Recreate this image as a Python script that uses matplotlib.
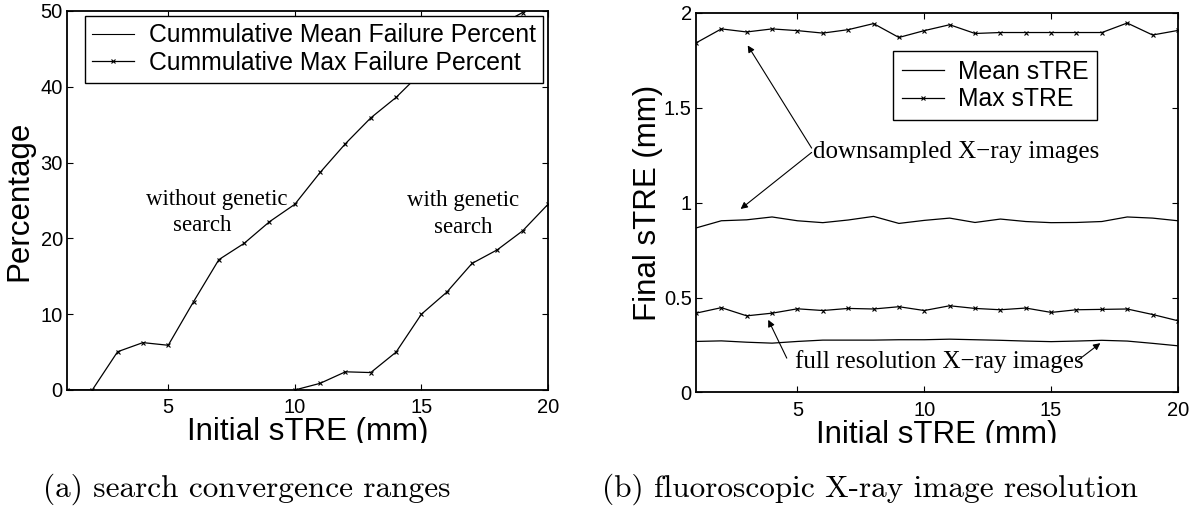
import numpy as np
import matplotlib.pyplot as plt
from matplotlib.lines import Line2D
from matplotlib.transforms import Bbox, TransformedBbox

# (a) cumulative max failure percent
init_stre = np.arange(1, 21)
fail_without = [0, 0, 5.05, 6.25, 5.9, 11.65, 17.2, 19.35, 22.2, 24.5,
                28.7, 32.5, 35.9, 38.6, 41.9, 44.2, 46.3, 48.0, 49.8, 52.5]
init_genetic = np.arange(10, 21)
fail_with = [0, 0.88, 2.4, 2.3, 5.0, 10.0, 12.9, 16.7, 18.5, 21.0, 24.5]

# (b) final sTRE, downsampled and full resolution images
mean_down = [0.867, 0.905, 0.910, 0.925, 0.905, 0.895, 0.909, 0.928, 0.891, 0.907,
             0.919, 0.896, 0.914, 0.901, 0.895, 0.896, 0.901, 0.925, 0.919, 0.905]
max_down = [1.842, 1.916, 1.900, 1.916, 1.907, 1.894, 1.912, 1.944, 1.871, 1.907,
            1.938, 1.892, 1.897, 1.897, 1.897, 1.897, 1.897, 1.947, 1.884, 1.908]
mean_full = [0.269, 0.272, 0.265, 0.260, 0.269, 0.276, 0.276, 0.276, 0.278, 0.278,
             0.281, 0.278, 0.275, 0.271, 0.268, 0.271, 0.275, 0.271, 0.259, 0.246]
max_full = [0.418, 0.447, 0.404, 0.418, 0.441, 0.432, 0.443, 0.440, 0.452, 0.432,
            0.457, 0.443, 0.436, 0.445, 0.422, 0.436, 0.438, 0.440, 0.411, 0.378]

xticks = [5, 10, 15, 20]
yticks_a = [0, 10, 20, 30, 40, 50]
yticks_b = [0, 0.5, 1, 1.5, 2]
yticklabels_b = ['0', '0.5', '1', '1.5', '2']

plt.rcParams['font.family'] = ['Liberation Sans', 'DejaVu Sans']
serif = ['Liberation Serif', 'DejaVu Serif']

fig = plt.figure(figsize=(12.02, 5.09), dpi=100)
ax1 = fig.add_axes([0.0557, 0.2338, 0.4002, 0.7446])
ax2 = fig.add_axes([0.5790, 0.2289, 0.4010, 0.7456])

# clip the x labels like the cropped original
clipbox = TransformedBbox(Bbox([[0, 66 / 509], [1, 1]]), fig.transFigure)

for ax in (ax1, ax2):
    ax.tick_params(direction='in', top=True, right=True, length=4, width=0.8,
                   labelsize=14.5)
    ax.tick_params(axis='x', pad=6)
    ax.tick_params(axis='y', pad=3)
    for s in ax.spines.values():
        s.set_linewidth(1.3)
    ax.set_xlim(1, 20)
    ax.set_xticks(xticks)
    ax.set_xlabel('Initial sTRE (mm)', fontsize=22.5)
    ax.xaxis.label.set_clip_box(clipbox)
    ax.xaxis.label.set_clip_on(True)

# ---- (a)
ln_max, = ax1.plot(init_stre, fail_without, color='k', lw=0.9, marker='x', ms=3.5, mew=0.8, zorder=3)
ax1.plot(init_genetic, fail_with, color='k', lw=0.9, marker='x', ms=3.5, mew=0.8, zorder=3)
ax1.set_ylim(0, 50)
ax1.set_yticks(yticks_a)
ax1.set_ylabel('Percentage', fontsize=22.5)
ax1.yaxis.set_label_coords(-0.067, 0.5)
ax1.xaxis.set_label_coords(0.5, -0.072)
ax1.text(6.90, 24.4, 'without genetic', family=serif, fontsize=16.5, ha='center', va='baseline')
ax1.text(6.33, 20.98, 'search', family=serif, fontsize=16.5, ha='center', va='baseline')
ax1.text(16.65, 24.3, 'with genetic', family=serif, fontsize=16.5, ha='center', va='baseline')
ax1.text(16.65, 20.7, 'search', family=serif, fontsize=16.5, ha='center', va='baseline')

mean_proxy = Line2D([], [], color='k', lw=0.8)
leg1 = ax1.legend([mean_proxy, ln_max],
                  ['Cummulative Mean Failure Percent', 'Cummulative Max Failure Percent'],
                  loc='upper right', bbox_to_anchor=(1 - 5 / 481, 1 - 5 / 379),
                  borderaxespad=0, fancybox=False, edgecolor='k', framealpha=1,
                  fontsize=17.8, handlelength=1.7, handletextpad=0.57,
                  labelspacing=0.15, borderpad=0.3, numpoints=1)
leg1.get_frame().set_linewidth(1.0)

# ---- (b)
l_mean, = ax2.plot(init_stre, mean_down, color='k', lw=0.9, zorder=3)
l_max, = ax2.plot(init_stre, max_down, color='k', lw=0.9, marker='x', ms=3.5, mew=0.8, zorder=3)
ax2.plot(init_stre, mean_full, color='k', lw=0.9, zorder=3)
ax2.plot(init_stre, max_full, color='k', lw=0.9, marker='x', ms=3.5, mew=0.8, zorder=3)
ax2.set_ylim(0, 2)
ax2.set_yticks(yticks_b)
ax2.set_yticklabels(yticklabels_b)
ax2.set_ylabel('Final sTRE (mm)', fontsize=22.5)
ax2.yaxis.set_label_coords(-0.068, 0.5)
ax2.xaxis.set_label_coords(0.5, -0.072)

arrow = dict(arrowstyle='-|>', color='k', lw=0.8, mutation_scale=10, shrinkA=0, shrinkB=0)
ax2.text(5.63, 1.236, 'downsampled X\u2212ray images', family=serif, fontsize=18, ha='left', va='baseline')
ax2.annotate('', xy=(3.04, 1.829), xytext=(5.56, 1.288), arrowprops=arrow)
ax2.annotate('', xy=(2.76, 0.967), xytext=(5.56, 1.265), arrowprops=arrow)
ax2.text(4.905, 0.1286, 'full resolution X\u2212ray images', family=serif, fontsize=18, ha='left', va='baseline')
ax2.annotate('', xy=(3.85, 0.383), xytext=(4.58, 0.181), arrowprops=arrow)
ax2.annotate('', xy=(16.94, 0.26), xytext=(16.08, 0.172), arrowprops=arrow)

leg2 = ax2.legend([l_mean, l_max], ['Mean sTRE', 'Max sTRE'],
                  loc='upper right', bbox_to_anchor=(0.832, 0.900),
                  borderaxespad=0, fancybox=False, edgecolor='k', framealpha=1,
                  fontsize=17.8, handlelength=1.7, handletextpad=0.57,
                  labelspacing=0.15, borderpad=0.35, numpoints=1)
leg2.get_frame().set_linewidth(1.0)

# sub-captions
fig.text(43 / 1202, 1 - 497 / 509, '(a) search convergence ranges',
         family='cmr10', fontsize=22.5, va='baseline')
fig.text(602 / 1202, 1 - 497 / 509, '(b) fluoroscopic X-ray image resolution',
         family='cmr10', fontsize=22.5, va='baseline')

fig.savefig('out.png', dpi=100)
